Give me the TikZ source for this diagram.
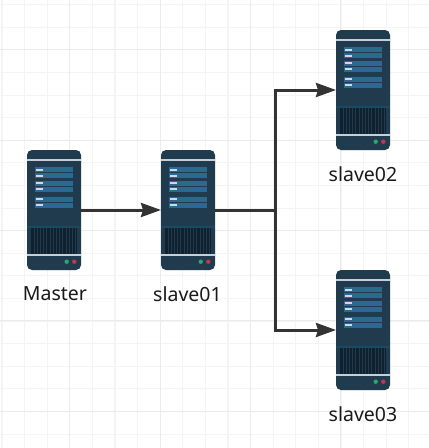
\documentclass[tikz,border=0pt]{standalone}
\usepackage{fontspec}
\setmainfont{Noto Sans}
\usetikzlibrary{arrows.meta}
\definecolor{srvbody}{HTML}{1F3B4D}
\definecolor{srvbar}{HTML}{2A6A90}
\definecolor{srvline}{HTML}{C4CFD8}
\definecolor{srvdark}{HTML}{10202F}
\definecolor{srvgrill}{HTML}{1A4A60}
\definecolor{srvgreen}{HTML}{2FA572}
\definecolor{srvred}{HTML}{C43554}
\definecolor{gridminor}{HTML}{F4F4F4}
\definecolor{gridmajor}{HTML}{EBEBEB}
\definecolor{wire}{HTML}{333333}
\tikzset{
  gridlo/.style={draw=gridminor,line width=1.1pt},
  gridhi/.style={draw=gridmajor,line width=1.1pt},
  server/.style={rectangle,rounded corners=5pt,fill=srvbody,minimum width=54pt,minimum height=120pt,inner sep=0pt,outer sep=0pt},
  caption/.style={font=\fontsize{19.5pt}{22pt}\selectfont,text=black!90,inner sep=0pt},
  wireline/.style={draw=wire,line width=3pt},
  wirearrow/.style={wireline,-{Stealth[length=20pt,width=14pt,inset=2pt]}},
}
\newcommand{\srvart}[2]{%
  \begin{scope}[shift={(#1-27,#2-60)}]
    \fill[srvline] (0,9) rectangle (54,11);
    \foreach \yy in {17.3,23.3,31,37,47,53}{
      \fill[srvbar] (7.7,\yy) rectangle (46.3,\yy+4.8);
      \fill[srvline!80!white] (8.8,\yy+1.4) rectangle (16,\yy+3.4);
    }
    \fill[srvgrill] (0,76.4) rectangle (54,78);
    \fill[srvdark] (4,78) rectangle (49.7,103.5);
    \foreach \xx in {6.5,9.7,12.9,16.1,19.3,22.5,25.7,28.9,32.1,35.3,38.5,41.7,44.9,48.1}{
      \fill[srvbody] (\xx,78) rectangle (\xx+0.9,103.5);
    }
    \fill[srvline] (0,104) rectangle (54,106.2);
    \fill[srvgreen] (39.7,111.7) circle (2.2);
    \fill[srvred] (47.3,111.7) circle (2.2);
  \end{scope}%
}
\begin{document}
\begin{tikzpicture}[x=1pt,y=-1pt]
  \useasboundingbox (0,0) rectangle (429,448);
  \fill[white] (0,0) rectangle (429,448);
  \foreach \i in {0,...,19}{
    \draw[gridlo] ({2+22.6*\i},0) -- ({2+22.6*\i},448);
    \draw[gridlo] (0,{4.7+22.6*\i}) -- (429,{4.7+22.6*\i});
  }
  \foreach \i in {0,...,4}{
    \draw[gridhi] ({69.7+90.4*\i},0) -- ({69.7+90.4*\i},448);
    \draw[gridhi] (0,{49.7+90.4*\i}) -- (429,{49.7+90.4*\i});
  }
  \node[server] (master) at (54,210) {};
  \node[server] (slaveA) at (188,210) {};
  \node[server] (slaveB) at (363,90) {};
  \node[server] (slaveC) at (363,330) {};
  \srvart{54}{210}
  \srvart{188}{210}
  \srvart{363}{90}
  \srvart{363}{330}
  \node[caption] (lm) at (55,294) {Master};
  \node[caption] (la) at (187.5,294) {slave01};
  \node[caption] (lb) at (363,174) {slave02};
  \node[caption] (lc) at (363,414) {slave03};
  \coordinate (junction) at (275.5,210);
  \draw[wirearrow] (master.east) -- (slaveA.west);
  \draw[wireline] (slaveA.east) -- (junction);
  \draw[wirearrow] (junction) |- (slaveB.west);
  \draw[wirearrow] (junction) |- (slaveC.west);
\end{tikzpicture}
\end{document}
